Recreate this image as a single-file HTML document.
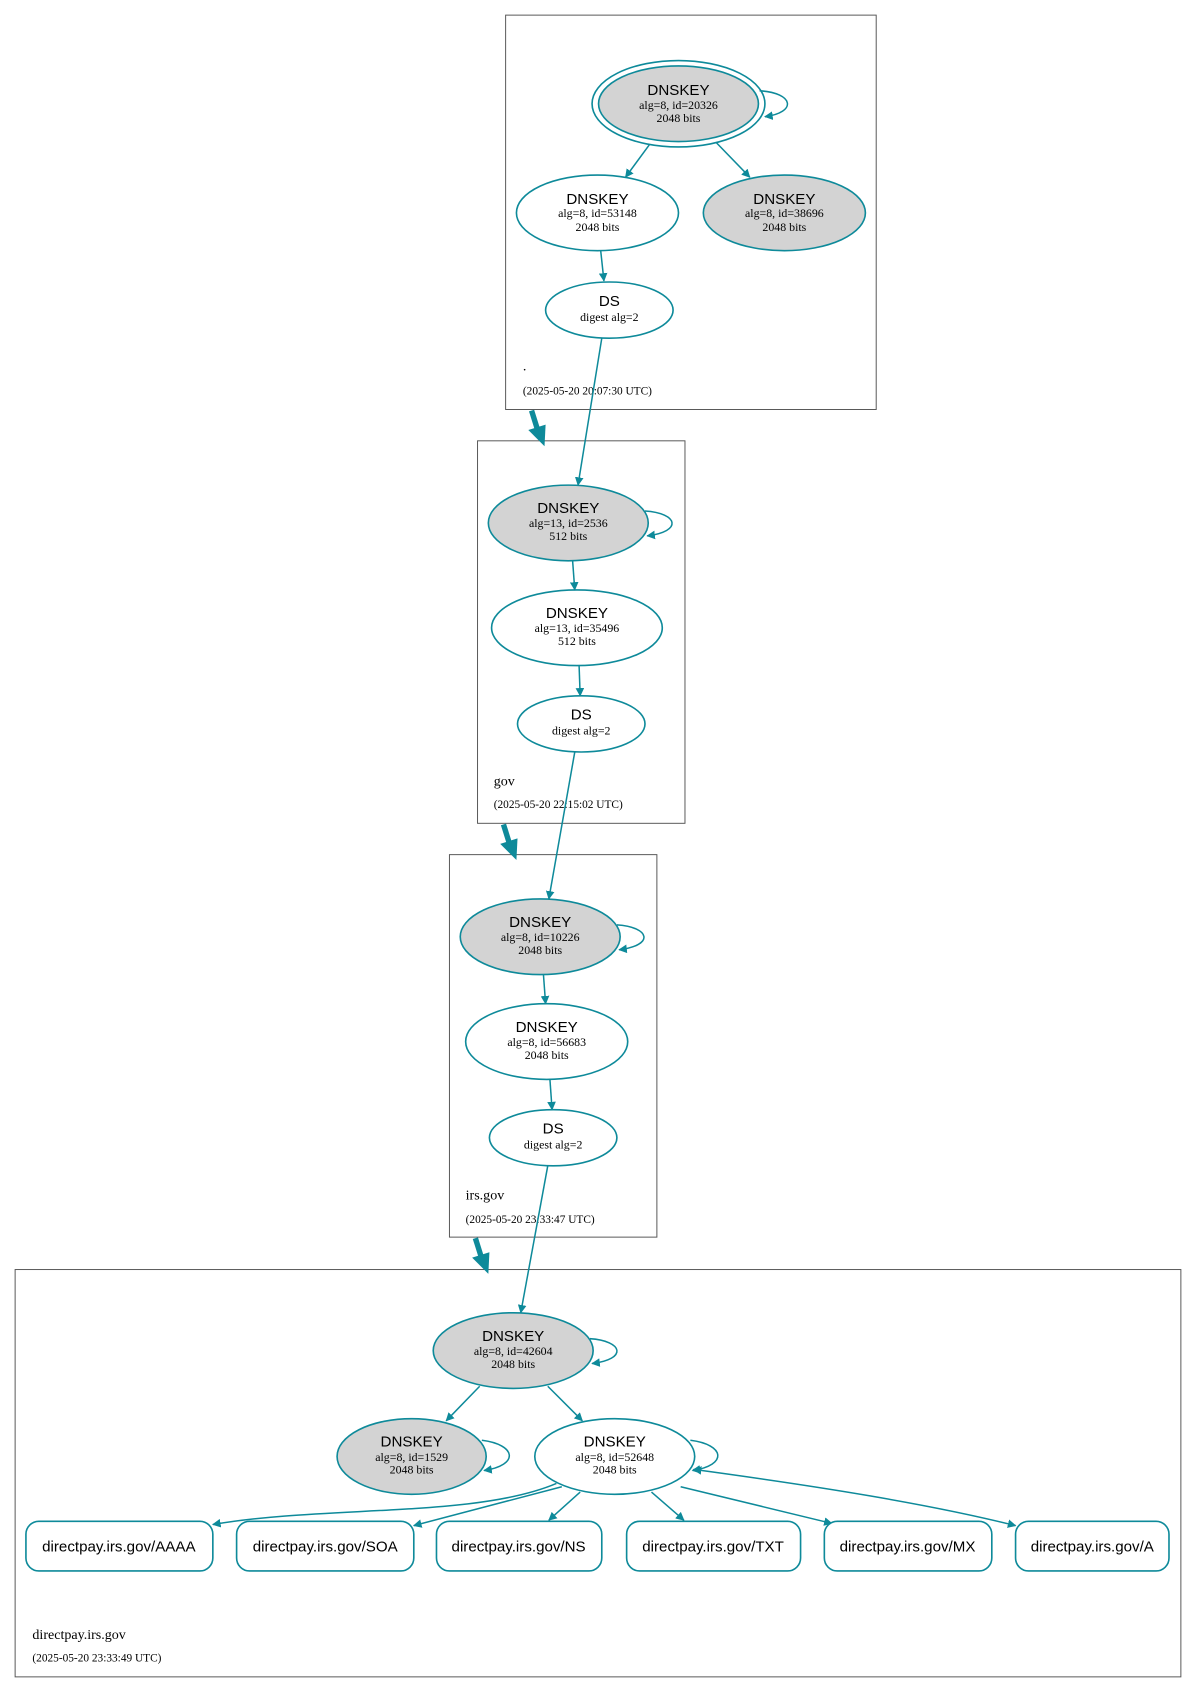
<!DOCTYPE html>
<html><head><meta charset="utf-8"><style>
html,body{margin:0;padding:0;background:#fff;}
svg{display:block;}
.s{font-family:"Liberation Sans",sans-serif;font-size:14px;fill:#000;}
.r{font-family:"Liberation Serif",serif;font-size:11px;fill:#000;}
.l{font-family:"Liberation Serif",serif;font-size:13px;fill:#000;}
.t{font-family:"Liberation Serif",serif;font-size:10.5px;fill:#000;}
.b{fill:none;stroke:#555;stroke-width:0.9;}
.e{stroke:#0e8a9a;stroke-width:1.5;}
.g{fill:#d3d3d3;}
.w{fill:#fff;}
.c{fill:none;stroke:#0e8a9a;stroke-width:1.4;}
.k{fill:none;stroke:#0e8a9a;stroke-width:5;}
.h{fill:#0e8a9a;}
</style></head><body>
<svg width="1196" height="1692" viewBox="0 0 1107 1566" preserveAspectRatio="none" xmlns="http://www.w3.org/2000/svg">
<defs>
<marker id="a" viewBox="0 0 10 10" refX="9" refY="5" markerWidth="8" markerHeight="8" markerUnits="userSpaceOnUse" orient="auto"><path d="M0,0 L10,5 L0,10 z" fill="#0e8a9a"/></marker>
<marker id="as" viewBox="0 0 10 10" refX="9" refY="5" markerWidth="8" markerHeight="8" markerUnits="userSpaceOnUse" orient="auto-start-reverse"><path d="M0,0 L10,5 L0,10 z" fill="#0e8a9a"/></marker>
</defs>
<rect class="b" x="468" y="14" width="343" height="365"/>
<rect class="b" x="442" y="408" width="192" height="354"/>
<rect class="b" x="416" y="791" width="192" height="354"/>
<rect class="b" x="14" y="1175" width="1079" height="377"/>

<g>
<path class="k" d="M492,380 L497,396"/><polygon class="h" points="489,398 505,393 504,413"/>
<path class="k" d="M466,763 L471,779"/><polygon class="h" points="463,781 479,776 478,796"/>
<path class="k" d="M440,1146 L445,1162"/><polygon class="h" points="437,1164 453,1159 452,1179"/>
</g>

<!-- zone . -->
<ellipse class="e w" cx="628" cy="96" rx="80" ry="40" fill="#fff"/>
<ellipse class="e g" cx="628" cy="96" rx="74" ry="35"/>
<text class="s" x="628" y="88" text-anchor="middle">DNSKEY</text>
<text class="r" x="628" y="101" text-anchor="middle">alg=8, id=20326</text>
<text class="r" x="628" y="113" text-anchor="middle">2048 bits</text>
<path class="c" d="M703,84 C735,86 738,104 708,108" marker-end="url(#a)"/>
<ellipse class="e w" cx="553" cy="197" rx="75" ry="35"/>
<text class="s" x="553" y="189" text-anchor="middle">DNSKEY</text>
<text class="r" x="553" y="201" text-anchor="middle">alg=8, id=53148</text>
<text class="r" x="553" y="214" text-anchor="middle">2048 bits</text>
<ellipse class="e g" cx="726" cy="197" rx="75" ry="35"/>
<text class="s" x="726" y="189" text-anchor="middle">DNSKEY</text>
<text class="r" x="726" y="201" text-anchor="middle">alg=8, id=38696</text>
<text class="r" x="726" y="214" text-anchor="middle">2048 bits</text>
<path class="c" d="M601,134 L579,164" marker-end="url(#a)"/>
<path class="c" d="M663,132 L694,164" marker-end="url(#a)"/>
<ellipse class="e w" cx="564" cy="287" rx="59" ry="26"/>
<text class="s" x="564" y="283" text-anchor="middle">DS</text>
<text class="r" x="564" y="297" text-anchor="middle">digest alg=2</text>
<path class="c" d="M556,232 L559,260" marker-end="url(#a)"/>
<text class="l" x="484" y="343">.</text>
<text class="t" x="484" y="365">(2025-05-20 20:07:30 UTC)</text>

<!-- gov -->
<ellipse class="e g" cx="526" cy="484" rx="74" ry="35"/>
<text class="s" x="526" y="475" text-anchor="middle">DNSKEY</text>
<text class="r" x="526" y="488" text-anchor="middle">alg=13, id=2536</text>
<text class="r" x="526" y="500" text-anchor="middle">512 bits</text>
<path class="c" d="M597,473 C628,475 632,492 599,496" marker-end="url(#a)"/>
<ellipse class="e w" cx="534" cy="581" rx="79" ry="35"/>
<text class="s" x="534" y="572" text-anchor="middle">DNSKEY</text>
<text class="r" x="534" y="585" text-anchor="middle">alg=13, id=35496</text>
<text class="r" x="534" y="597" text-anchor="middle">512 bits</text>
<path class="c" d="M530,519 L532,546" marker-end="url(#a)"/>
<ellipse class="e w" cx="538" cy="670" rx="59" ry="26"/>
<text class="s" x="538" y="666" text-anchor="middle">DS</text>
<text class="r" x="538" y="680" text-anchor="middle">digest alg=2</text>
<path class="c" d="M536,616 L537,644" marker-end="url(#a)"/>
<path class="c" d="M557,313 L535,449" marker-end="url(#a)"/>
<text class="l" x="457" y="727">gov</text>
<text class="t" x="457" y="748">(2025-05-20 22:15:02 UTC)</text>

<!-- irs.gov -->
<ellipse class="e g" cx="500" cy="867" rx="74" ry="35"/>
<text class="s" x="500" y="858" text-anchor="middle">DNSKEY</text>
<text class="r" x="500" y="871" text-anchor="middle">alg=8, id=10226</text>
<text class="r" x="500" y="883" text-anchor="middle">2048 bits</text>
<path class="c" d="M571,856 C602,858 606,875 573,879" marker-end="url(#a)"/>
<ellipse class="e w" cx="506" cy="964" rx="75" ry="35"/>
<text class="s" x="506" y="955" text-anchor="middle">DNSKEY</text>
<text class="r" x="506" y="968" text-anchor="middle">alg=8, id=56683</text>
<text class="r" x="506" y="980" text-anchor="middle">2048 bits</text>
<path class="c" d="M503,902 L505,929" marker-end="url(#a)"/>
<ellipse class="e w" cx="512" cy="1053" rx="59" ry="26"/>
<text class="s" x="512" y="1049" text-anchor="middle">DS</text>
<text class="r" x="512" y="1063" text-anchor="middle">digest alg=2</text>
<path class="c" d="M509,999 L511,1027" marker-end="url(#a)"/>
<path class="c" d="M532,696 L508,832" marker-end="url(#a)"/>
<text class="l" x="431" y="1110">irs.gov</text>
<text class="t" x="431" y="1132">(2025-05-20 23:33:47 UTC)</text>

<!-- directpay -->
<path class="c" d="M507,1079 L482,1215" marker-end="url(#a)"/>
<ellipse class="e g" cx="475" cy="1250" rx="74" ry="35"/>
<text class="s" x="475" y="1241" text-anchor="middle">DNSKEY</text>
<text class="r" x="475" y="1254" text-anchor="middle">alg=8, id=42604</text>
<text class="r" x="475" y="1266" text-anchor="middle">2048 bits</text>
<path class="c" d="M546,1239 C577,1241 581,1258 548,1262" marker-end="url(#a)"/>
<ellipse class="e g" cx="381" cy="1348" rx="69" ry="35"/>
<text class="s" x="381" y="1339" text-anchor="middle">DNSKEY</text>
<text class="r" x="381" y="1352" text-anchor="middle">alg=8, id=1529</text>
<text class="r" x="381" y="1364" text-anchor="middle">2048 bits</text>
<path class="c" d="M446,1333 C478,1337 481,1356 448,1361" marker-end="url(#a)"/>
<ellipse class="e w" cx="569" cy="1348" rx="74" ry="35"/>
<text class="s" x="569" y="1339" text-anchor="middle">DNSKEY</text>
<text class="r" x="569" y="1352" text-anchor="middle">alg=8, id=52648</text>
<text class="r" x="569" y="1364" text-anchor="middle">2048 bits</text>
<path class="c" d="M639,1333 C671,1337 674,1356 641,1361" marker-end="url(#a)"/>
<path class="c" d="M444,1283 L413,1315" marker-end="url(#a)"/>
<path class="c" d="M507,1283 L539,1315" marker-end="url(#a)"/>
<path class="c" d="M515,1373 C440,1405 300,1393 197,1411" marker-end="url(#a)"/>
<path class="c" d="M520,1376 L383,1412" marker-end="url(#a)"/>
<path class="c" d="M537,1381 L508,1407" marker-end="url(#a)"/>
<path class="c" d="M603,1381 L633,1407" marker-end="url(#a)"/>
<path class="c" d="M630,1376 L770,1410" marker-end="url(#a)"/>
<path class="c" d="M642,1360 C760,1376 860,1392 940,1412" marker-start="url(#as)" marker-end="url(#a)"/>

<g>
<rect class="e w" x="24" y="1408" width="173" height="46" rx="12"/>
<text class="s" x="110" y="1436" text-anchor="middle">directpay.irs.gov/AAAA</text>
<rect class="e w" x="219" y="1408" width="164" height="46" rx="12"/>
<text class="s" x="301" y="1436" text-anchor="middle">directpay.irs.gov/SOA</text>
<rect class="e w" x="404" y="1408" width="153" height="46" rx="12"/>
<text class="s" x="480" y="1436" text-anchor="middle">directpay.irs.gov/NS</text>
<rect class="e w" x="580" y="1408" width="161" height="46" rx="12"/>
<text class="s" x="660" y="1436" text-anchor="middle">directpay.irs.gov/TXT</text>
<rect class="e w" x="763" y="1408" width="155" height="46" rx="12"/>
<text class="s" x="840" y="1436" text-anchor="middle">directpay.irs.gov/MX</text>
<rect class="e w" x="940" y="1408" width="142" height="46" rx="12"/>
<text class="s" x="1011" y="1436" text-anchor="middle">directpay.irs.gov/A</text>
</g>
<text class="l" x="30" y="1517">directpay.irs.gov</text>
<text class="t" x="30" y="1538">(2025-05-20 23:33:49 UTC)</text>
</svg>
</body></html>
